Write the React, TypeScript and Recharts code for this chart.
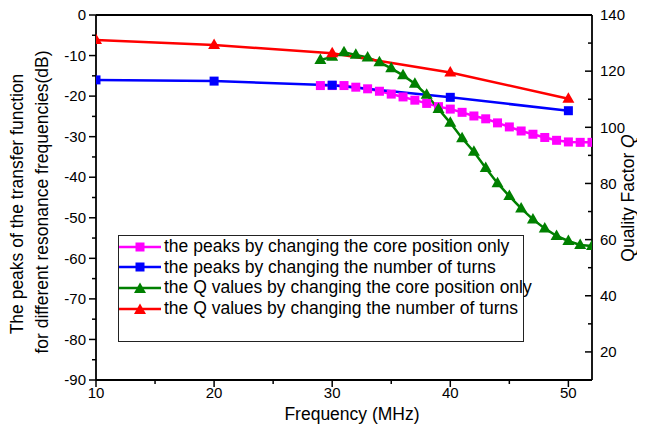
import { LineChart, Line, XAxis, YAxis, Legend, ReferenceLine } from 'recharts';

// turns series (x = 10..50 MHz)
const turnsFreq = [10, 20, 30, 40, 50];
const turnsPeaks = [-16.0, -16.3, -17.3, -20.3, -23.6];
const turnsQ = [131.1, 129.3, 126.4, 119.5, 110.2];

// core position series (x = 29..52 MHz)
const coreFreq = [29, 30, 31, 32, 33, 34, 35, 36, 37, 38, 39, 40, 41, 42, 43, 44, 45, 46, 47, 48, 49, 50, 51, 52];
const corePeaks = [
  -17.4, -17.4, -17.4, -17.8, -18.2, -18.8, -19.5, -20.2, -21.0, -21.8, -22.6, -23.2,
  -24.0, -24.9, -25.6, -26.6, -27.6, -28.6, -29.4, -30.2, -30.9, -31.3, -31.4, -31.4,
];
const coreQ = [
  124.0, 125.1, 126.7, 125.8, 124.9, 123.2, 121.0, 118.5, 115.5, 111.6, 106.5, 101.6,
  96.1, 91.3, 85.5, 80.1, 75.5, 71.1, 67.2, 64.0, 61.3, 59.5, 58.1, 57.7,
];

const xTicks = [10, 15, 20, 25, 30, 35, 40, 45, 50];
const leftTicks = [-90, -85, -80, -75, -70, -65, -60, -55, -50, -45, -40, -35, -30, -25, -20, -15, -10, -5, 0];
const rightTicks = [20, 30, 40, 50, 60, 70, 80, 90, 100, 110, 120, 130, 140];

const legendNames = [
  'the peaks by changing the core position only',
  'the peaks by changing the number of turns',
  'the Q values by changing the core position only',
  'the Q values by changing the number of turns',
];

const FONT = '"Liberation Sans", Arial, sans-serif';
const MAGENTA = '#ff00ff';
const BLUE = '#0000ff';
const GREEN = '#008000';
const RED = '#ff0000';

const turnsData = turnsFreq.map((x, i) => ({ x, peak: turnsPeaks[i], q: turnsQ[i] }));
const coreData = coreFreq.map((x, i) => ({ x, peak: corePeaks[i], q: coreQ[i] }));

const squareDot = (color: string) => (p: any) => {
  if (p.cx == null || p.cy == null) return <g key={p.key ?? p.index} />;
  return <rect key={p.key ?? p.index} x={p.cx - 4.5} y={p.cy - 4.5} width={9} height={9} fill={color} />;
};

const triPath = (cx: number, cy: number) => `M${cx},${cy - 6.5}L${cx + 6},${cy + 4}L${cx - 6},${cy + 4}Z`;

const triDot = (color: string) => (p: any) => {
  if (p.cx == null || p.cy == null) return <g key={p.key ?? p.index} />;
  return <path key={p.key ?? p.index} d={triPath(p.cx, p.cy)} fill={color} />;
};

const LeftTick = (props: any) => {
  const { x, y, payload } = props;
  const v = payload.value;
  const major = v % 10 === 0;
  return (
    <g>
      <line x1={x - (major ? 7 : 4)} x2={x} y1={y} y2={y} stroke="#000" strokeWidth={1.5} />
      {major && (
        <text x={x - 10} y={y} dy="0.35em" textAnchor="end" fontSize={15} fontFamily={FONT} fill="#000">
          {v}
        </text>
      )}
    </g>
  );
};

const RightTick = (props: any) => {
  const { x, y, payload } = props;
  const v = payload.value;
  const major = v % 20 === 0;
  return (
    <g>
      <line x1={x - (major ? 7 : 4)} x2={x} y1={y} y2={y} stroke="#000" strokeWidth={1.5} />
      {major && (
        <text x={x + 8} y={y} dy="0.35em" textAnchor="start" fontSize={15} fontFamily={FONT} fill="#000">
          {v}
        </text>
      )}
    </g>
  );
};

const BottomTick = (props: any) => {
  const { x, y, payload } = props;
  const v = payload.value;
  const major = v % 10 === 0;
  return (
    <g>
      <line x1={x} x2={x} y1={y} y2={y + (major ? 7 : 4)} stroke="#000" strokeWidth={1.5} />
      {major && (
        <text x={x} y={y + 13} dy="0.35em" textAnchor="middle" fontSize={15} fontFamily={FONT} fill="#000">
          {v}
        </text>
      )}
    </g>
  );
};

const LeftTitle = () => (
  <g fontFamily={FONT} fontSize={17.5} fill="#000">
    <text transform="translate(17,204) rotate(-90)" textAnchor="middle" dominantBaseline="central">
      The peaks of the transfer function
    </text>
    <text transform="translate(42,202) rotate(-90)" textAnchor="middle" dominantBaseline="central">
      for different resonance frequencies(dB)
    </text>
  </g>
);

const RightTitle = () => (
  <text
    transform="translate(628,198) rotate(-90)"
    textAnchor="middle"
    dominantBaseline="central"
    fontFamily={FONT}
    fontSize={17.5}
    fill="#000"
  >
    Quality Factor <tspan fontStyle="italic">Q</tspan>
  </text>
);

const BottomTitle = () => (
  <text x={352} y={414} textAnchor="middle" dominantBaseline="central" fontFamily={FONT} fontSize={17.5} fill="#000">
    Frequency (MHz)
  </text>
);

const legendColors = [MAGENTA, BLUE, GREEN, RED];

const LegendBox = () => (
  <div
    style={{
      width: 406,
      height: 107,
      boxSizing: 'border-box',
      border: '1px solid #222',
      background: '#fff',
      fontFamily: FONT,
      fontSize: 17.5,
      color: '#000',
      paddingTop: 0.5,
    }}
  >
    {legendNames.map((name, i) => (
      <div key={name} style={{ display: 'flex', alignItems: 'center', height: 20.6, whiteSpace: 'nowrap' }}>
        <svg width={42} height={14} style={{ flex: 'none' }}>
          <line x1={0} x2={42} y1={7} y2={7} stroke={legendColors[i]} strokeWidth={2.5} />
          {i < 2 ? (
            <rect x={16.5} y={2.5} width={9} height={9} fill={legendColors[i]} />
          ) : (
            <path d={triPath(21, 8)} fill={legendColors[i]} />
          )}
        </svg>
        <span style={{ marginLeft: 3 }}>{name}</span>
      </div>
    ))}
  </div>
);

export default function App() {
  return (
    <div style={{ fontFamily: FONT, margin: '-8px 0 0 -8px', width: 645, height: 432 }}>
      <LineChart width={645} height={432} margin={{ top: 15, right: 0, bottom: 0, left: 0 }}>
        <XAxis
          dataKey="x"
          type="number"
          domain={[10, 52]}
          ticks={xTicks}
          allowDataOverflow
          height={52}
          tickSize={0}
          tickMargin={0}
          tick={<BottomTick />}
          axisLine={{ stroke: '#000', strokeWidth: 1.8 }}
          label={<BottomTitle />}
          interval={0}
        />
        <YAxis
          yAxisId="left"
          orientation="left"
          type="number"
          domain={[-90, 0]}
          ticks={leftTicks}
          width={96}
          tickSize={0}
          tickMargin={0}
          tick={<LeftTick />}
          axisLine={{ stroke: '#000', strokeWidth: 1.8 }}
          label={<LeftTitle />}
          interval={0}
        />
        <YAxis
          yAxisId="right"
          orientation="right"
          type="number"
          domain={[10, 140]}
          ticks={rightTicks}
          width={53}
          tickSize={0}
          tickMargin={0}
          tick={<RightTick />}
          axisLine={{ stroke: '#000', strokeWidth: 1.8 }}
          label={<RightTitle />}
          interval={0}
        />
        <ReferenceLine yAxisId="left" y={0} stroke="#000" strokeWidth={1.8} />
        <Legend
          layout="vertical"
          align="center"
          verticalAlign="middle"
          wrapperStyle={{ left: 118, top: 235, width: 406, height: 107 }}
          content={() => <LegendBox />}
        />
        <Line
          yAxisId="left"
          data={coreData}
          dataKey="peak"
          name={legendNames[0]}
          type="linear"
          stroke={MAGENTA}
          strokeWidth={2.5}
          dot={squareDot(MAGENTA)}
          isAnimationActive={false}
        />
        <Line
          yAxisId="left"
          data={turnsData}
          dataKey="peak"
          name={legendNames[1]}
          type="linear"
          stroke={BLUE}
          strokeWidth={2.5}
          dot={squareDot(BLUE)}
          isAnimationActive={false}
        />
        <Line
          yAxisId="right"
          data={coreData}
          dataKey="q"
          name={legendNames[2]}
          type="linear"
          stroke={GREEN}
          strokeWidth={2.5}
          dot={triDot(GREEN)}
          isAnimationActive={false}
        />
        <Line
          yAxisId="right"
          data={turnsData}
          dataKey="q"
          name={legendNames[3]}
          type="linear"
          stroke={RED}
          strokeWidth={2.5}
          dot={triDot(RED)}
          isAnimationActive={false}
        />
      </LineChart>
    </div>
  );
}
